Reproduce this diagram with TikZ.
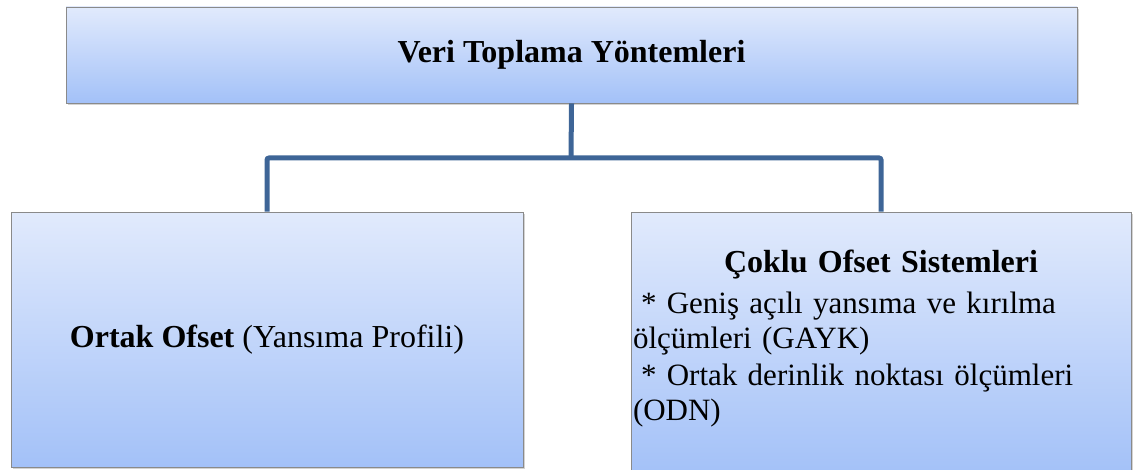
\documentclass[tikz,border=0pt]{standalone}
\usepackage{fontspec}
\setmainfont{Liberation Serif}
\usetikzlibrary{positioning,shadows}
\definecolor{boxtop}{HTML}{E1EAFC}
\definecolor{boxbottom}{HTML}{A3C1F8}
\definecolor{boxline}{HTML}{8A8A8A}
\definecolor{linkblue}{HTML}{3E6597}
\tikzset{
	auto,
	methodbox/.style={
		rectangle, thin, draw=boxline, top color=boxtop, bottom color=boxbottom,
		drop shadow={shadow xshift=0.8pt, shadow yshift=-1.2pt, opacity=0.35},
		font=\fontsize{16}{17}\selectfont, inner sep=1pt
	},
	%
	link/.style={
		draw=linkblue, line width=2.5pt, rounded corners=1pt
	}
}

\begin{document}
\begin{tikzpicture}[x=0.5pt,y=-0.5pt]
\useasboundingbox (0,0) rectangle (1133,470);
%boxes
\node (top) [methodbox, minimum width=505.5pt, minimum height=48pt] at (571.5,55) {\textbf{Veri Toplama Yöntemleri}};
\node (left) [methodbox, minimum width=256pt, minimum height=127.5pt] at (267,339.5) {\textbf{Ortak Ofset} (Yansıma Profili)};
\node (right) [methodbox, minimum width=250pt, minimum height=131.5pt, text width=248pt, align=left, font=\fontsize{15.5}{17.5}\selectfont] at (881,343.5) {{\centering\fontsize{16}{17}\bfseries Çoklu Ofset Sistemleri\par}\vspace{3pt}
\hspace*{4pt}* Geniş açılı yansıma ve kırılma\\ölçümleri (GAYK)\par\vspace{1pt}
\hspace*{4pt}* Ortak derinlik noktası ölçümleri\\(ODN)\par\vspace{5pt}\hrule height 0pt};

%connectors
\coordinate (joint) at (571,158);
\draw[link] (top.south) -- (joint);
\draw[link] (left.north) |- (joint) -| (right.north);
\end{tikzpicture}
\end{document}
